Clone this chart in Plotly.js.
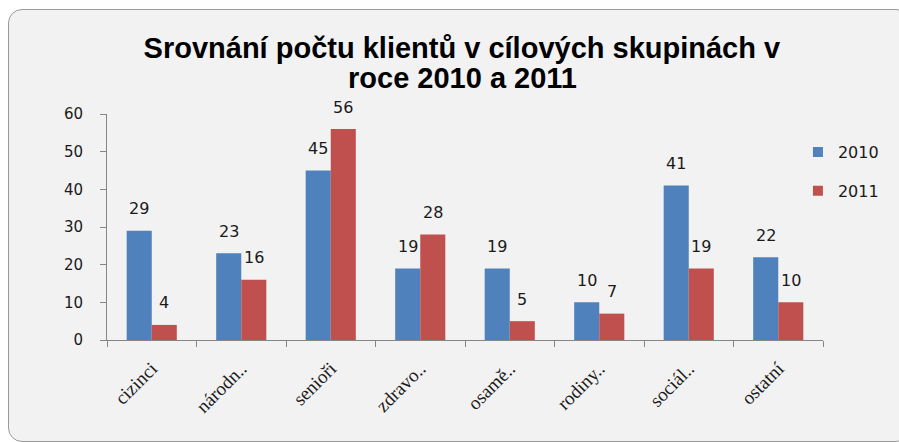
<!DOCTYPE html>
<html>
<head>
<meta charset="utf-8">
<script src="https://cdn.plot.ly/plotly-3.0.1.min.js"></script>
<style>
  html, body { margin: 0; padding: 0; background: #ffffff; width: 899px; height: 442px; overflow: hidden; }
  #frame { position: absolute; left: 8px; top: 9px; width: 900px; height: 431px; border: 1px solid #9a9a9a; border-radius: 14px; background: #f2f2f2; overflow: hidden; }
  #chart { position: absolute; left: 0; top: 0; width: 888px; height: 430px; }
</style>
</head>
<body>
<div id="frame"><div id="chart"></div></div>
<script>
const categories = ["cizinci", "národn..", "senioři", "zdravo..", "osamě..", "rodiny..", "sociál..", "ostatní"];
const values2010 = [29, 23, 45, 19, 19, 10, 41, 22];
const values2011 = [4, 16, 56, 28, 5, 7, 19, 10];
const seriesNames = ["2010", "2011"];
const seriesColors = ["#4f81bd", "#c0504d"];
const titleLine1 = "Srovnání počtu klientů v cílových skupinách v";
const titleLine2 = "roce 2010 a 2011";
const yTicks = [0, 10, 20, 30, 40, 50, 60];

const allSeries = [values2010, values2011];
const traces = [];
allSeries.forEach((vals, i) => {
  traces.push({
    type: "bar", x: categories, y: vals, name: seriesNames[i],
    marker: { color: seriesColors[i], line: { width: 0 } },
    showlegend: false, hoverinfo: "x+y"
  });
});
// legend entries with small square symbols
allSeries.forEach((vals, i) => {
  traces.push({
    type: "scatter", mode: "markers", x: [categories[0]], y: [null], name: seriesNames[i],
    marker: { symbol: "square", size: 10, color: seriesColors[i] },
    legendgroup: "g" + i, showlegend: true, hoverinfo: "skip"
  });
});

const titleFont = { family: "Liberation Sans, Arial, sans-serif", size: 29, color: "#000000", weight: "bold" };

const annotations = [{
  text: titleLine2, xref: "paper", yref: "paper", x: 0.496, y: 1 + (104 - 68) / 226,
  xanchor: "center", yanchor: "middle", showarrow: false, font: titleFont
}];
const half = 12.5;
allSeries.forEach((vals, i) => {
  vals.forEach((v, j) => {
    annotations.push({
      x: categories[j], y: v, xref: "x", yref: "y",
      text: String(v), showarrow: false,
      xshift: (i === 0 ? -half : half), yshift: 22,
      yanchor: "middle", xanchor: "center",
      font: { family: "DejaVu Sans, Verdana, sans-serif", size: 16, color: "#1a1a1a" }
    });
  });
});

const layout = {
  width: 888, height: 430,
  paper_bgcolor: "rgba(0,0,0,0)", plot_bgcolor: "rgba(0,0,0,0)",
  margin: { l: 98, r: 74, t: 104, b: 100 },
  title: {
    text: titleLine1, xref: "container", yref: "container",
    x: 0.51, xanchor: "center", y: 1 - 38 / 430, yanchor: "middle",
    font: titleFont
  },
  barmode: "group", bargap: 0.44, bargroupgap: 0,
  xaxis: {
    type: "category", showline: true, linecolor: "#868686", linewidth: 1,
    ticks: "outside", tickson: "boundaries", ticklen: 6, tickcolor: "#868686",
    tickangle: -45, ticklabelstandoff: 9,
    tickfont: { family: "Liberation Serif, Times New Roman, serif", size: 19, color: "#1a1a1a" },
    showgrid: false, zeroline: false, fixedrange: true
  },
  yaxis: {
    range: [0, 60], tickvals: yTicks, ticktext: yTicks.map(String),
    showline: true, linecolor: "#868686", linewidth: 1,
    ticks: "outside", ticklen: 6, tickcolor: "#868686", ticklabelstandoff: 14,
    tickfont: { family: "DejaVu Sans, Verdana, sans-serif", size: 15, color: "#1a1a1a" },
    showgrid: false, zeroline: false, fixedrange: true
  },
  showlegend: true,
  legend: {
    x: 0.965, xanchor: "left", y: 0.907, yanchor: "top",
    bgcolor: "rgba(0,0,0,0)", tracegroupgap: 15,
    font: { family: "DejaVu Sans, Verdana, sans-serif", size: 16, color: "#1a1a1a" }
  },
  annotations: annotations
};

Plotly.newPlot("chart", traces, layout, { displayModeBar: false, staticPlot: true });
</script>
</body>
</html>
